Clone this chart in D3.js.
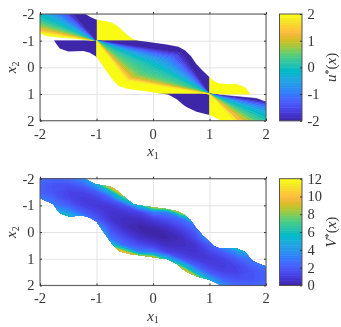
<!DOCTYPE html>
<html>
<head>
<meta charset="utf-8">
<script src="https://cdn.jsdelivr.net/npm/d3@7"></script>
<style>
html, body { margin: 0; padding: 0; background: #fff; }
svg { display: block; filter: blur(0.5px); }
text { font-family: "Liberation Serif", serif; fill: #333; }
</style>
</head>
<body>
<div id="chart"></div>
<script>
var width = 341
var height = 327

var xTicks = [-2, -1, 0, 1, 2]
var yTicks = [-2, -1, 0, 1, 2]
var uTicks = [-2, -1, 0, 1, 2]
var vTicks = [0, 2, 4, 6, 8, 10, 12]

// MATLAB parula, 64 levels
var parula = [[.2422,.1504,.6603],[.2504,.1650,.7076],[.2578,.1818,.7511],[.2647,.1978,.7952],[.2706,.2147,.8364],[.2751,.2342,.8710],[.2783,.2559,.8991],[.2803,.2782,.9221],[.2813,.3006,.9414],[.2810,.3228,.9579],[.2795,.3447,.9717],[.2760,.3667,.9829],[.2699,.3892,.9906],[.2602,.4123,.9952],[.2440,.4358,.9988],[.2206,.4603,.9973],[.1963,.4847,.9892],[.1834,.5074,.9798],[.1786,.5289,.9682],[.1764,.5499,.9520],[.1687,.5703,.9359],[.1540,.5902,.9218],[.1460,.6091,.9079],[.1380,.6276,.8973],[.1248,.6459,.8883],[.1113,.6635,.8763],[.0952,.6798,.8598],[.0689,.6948,.8394],[.0297,.7082,.8163],[.0036,.7203,.7917],[.0067,.7312,.7660],[.0433,.7411,.7394],[.0964,.7500,.7120],[.1408,.7584,.6842],[.1717,.7670,.6554],[.1938,.7758,.6251],[.2161,.7843,.5923],[.2470,.7918,.5567],[.2906,.7973,.5188],[.3406,.8008,.4789],[.3909,.8029,.4354],[.4456,.8024,.3909],[.5044,.7993,.3480],[.5616,.7942,.3045],[.6174,.7876,.2612],[.6720,.7793,.2227],[.7242,.7698,.1910],[.7738,.7598,.1646],[.8203,.7498,.1535],[.8634,.7406,.1596],[.9035,.7330,.1774],[.9393,.7288,.2100],[.9728,.7298,.2394],[.9956,.7434,.2371],[.9970,.7659,.2199],[.9952,.7893,.2028],[.9892,.8136,.1885],[.9786,.8386,.1766],[.9676,.8639,.1643],[.9610,.8890,.1537],[.9597,.9135,.1423],[.9628,.9373,.1265],[.9691,.9606,.1064],[.9769,.9839,.0805]]
var parulaColors = parula.map(c => d3.rgb(c[0] * 255, c[1] * 255, c[2] * 255).formatHex())

// edge of the region both maps are defined on, [x1, x2]
var upperEdge = [[-2,-2],[-1.2,-2],[-1.1,-1.88],[-1,-1.78],[-0.85,-1.74],[-0.73,-1.68],[-0.63,-1.55],[-0.55,-1.4],[-0.45,-1.2],[-0.35,-1.05],[-0.25,-1.0],[-0.11,-0.96],[0.24,-0.86],[0.45,-0.77],[0.57,-0.63],[0.67,-0.43],[0.77,-0.12],[0.88,0.13],[1,0.37],[1.08,0.52],[1.16,0.6],[1.3,0.62],[1.48,0.62],[1.63,0.75],[1.75,1.07],[1.85,1.17],[2,1.29]]
var lowerEdge = [[2,2],[1.21,2],[1.1,1.88],[1,1.79],[0.77,1.66],[0.6,1.5],[0.54,1.41],[0.42,1.2],[0.27,1.02],[0.1,0.97],[-0.11,0.91],[-0.44,0.81],[-0.61,0.7],[-0.7,0.5],[-0.82,0.16],[-0.92,-0.15],[-1,-0.4],[-1.12,-0.55],[-1.23,-0.61],[-1.5,-0.59],[-1.65,-0.71],[-1.72,-0.9],[-1.76,-1.05],[-2,-1.27]]

// saturated parts of u*, corners [x1, x2] and the value they carry
var saturatedU = [
    { u: -2, corners: [[-2,-1],[-1,-1],[-1,0],[-2,0]] },
    { u: 2, corners: [[-1,-2],[0,-2],[0,-1],[-1,-1]] },
    { u: -2, corners: [[-1,-1],[1,-1],[1,1],[0.5,-0.55]] },
    { u: 2, corners: [[-1,-1],[-0.47,0.5],[1,1],[-1,1]] },
    { u: 2, corners: [[1,0],[2,0],[2,1],[1,1]] },
    { u: -2, corners: [[0,1],[1,1],[1,2],[0,2]] }
]

// rays out of (-1,-1) and (1,1): [x1, x2, u]
var fanLeft = [[-2,-1.2,2],[-2,-1.31,2],[-2,-1.36,1.6],[-2,-1.42,1.3],[-2,-1.5,1],[-2,-1.58,0.7],[-2,-1.66,0.5],[-2,-1.76,0.25],[-2,-1.88,0.05],[-2,-2,-0.1],[-1.9,-2,-0.3],[-1.8,-2,-0.55],[-1.7,-2,-0.8],[-1.6,-2,-1.1],[-1.5,-2,-1.5],[-1.42,-2,-2],[-1,-2,-2]]
var fanRight = [[2,1.2,-2],[2,1.31,-2],[2,1.36,-1.6],[2,1.42,-1.3],[2,1.5,-1],[2,1.58,-0.7],[2,1.66,-0.5],[2,1.76,-0.25],[2,1.88,-0.05],[2,2,0.1],[1.9,2,0.3],[1.8,2,0.55],[1.7,2,0.8],[1.6,2,1.1],[1.5,2,1.5],[1.42,2,2],[1,2,2]]
// strips between the two apexes, bent at these points: [x1, x2, u]
var fanMiddle = [[0.5,-0.55,-2],[0.47,-0.517,-1.85],[0.439,-0.484,-1.7],[0.409,-0.451,-1.55],[0.379,-0.419,-1.4],[0.349,-0.386,-1.25],[0.318,-0.353,-1.1],[0.288,-0.32,-0.98],[0.258,-0.288,-0.85],[0.227,-0.255,-0.72],[0.197,-0.222,-0.6],[0.167,-0.189,-0.5],[0.136,-0.156,-0.38],[0.106,-0.123,-0.27],[0.076,-0.091,-0.17],[0.045,-0.058,-0.08],[0.015,-0.025,0],[-0.015,0.008,0.06],[-0.046,0.041,0.12],[-0.076,0.074,0.18],[-0.106,0.106,0.24],[-0.136,0.139,0.3],[-0.167,0.172,0.36],[-0.197,0.205,0.42],[-0.228,0.238,0.5],[-0.258,0.27,0.6],[-0.288,0.303,0.7],[-0.319,0.336,0.82],[-0.349,0.369,0.95],[-0.379,0.402,1.15],[-0.409,0.434,1.4],[-0.44,0.467,1.7],[-0.47,0.5,2]]

// V* read at x1, x2 = -2, -1.75, ... 2 (rows are x2)
var vGrid = [
    [2.6,2.4,2.6,3.6,8,13,14,14,14,14,14,14,14,14,14,14,14],
    [2.2,1.8,1.7,2.2,4.5,11,14,14,14,14,14,14,14,14,14,14,14],
    [2.3,1.8,1.3,1.3,2,5,13,14,14,14,14,14,14,14,14,14,14],
    [3.3,2.3,1.4,1,1.2,2.2,6.5,13,14,14,14,14,14,14,14,14,14],
    [5,3.2,2.2,1.3,0.9,1,1.8,5.5,11,13,14,14,14,14,14,14,14],
    [7,5.5,4,2.2,1.3,0.7,0.9,1.3,3,3.5,9.5,14,14,14,14,14,14],
    [8,7.5,7,4.5,2,0.75,0.45,0.55,1.2,1.8,2.6,7,14,14,14,14,14],
    [10,9,9,8,4,1.4,0.4,0.15,0.35,0.8,1.7,3,10,14,14,14,14],
    [12,11,10,9,6.5,2,0.9,0.25,0,0.25,0.9,2,6.5,9,10,11,12],
    [14,14,14,14,10,3,1.7,0.8,0.35,0.15,0.4,1.4,4,8,9,9,10],
    [14,14,14,14,14,7,2.6,1.8,1.2,0.55,0.45,0.75,2,4.5,7,7.5,8],
    [14,14,14,14,14,14,9.5,3.5,3,1.3,0.9,0.7,1.3,2.2,4,5.5,7],
    [14,14,14,14,14,14,14,13,11,5.5,1.8,1,0.9,1.3,2.2,3.2,5],
    [14,14,14,14,14,14,14,14,14,13,6.5,2.2,1.2,1,1.4,2.3,3.3],
    [14,14,14,14,14,14,14,14,14,14,13,5,2,1.3,1.3,1.8,2.3],
    [14,14,14,14,14,14,14,14,14,14,14,11,4.5,2.2,1.7,1.8,2.2],
    [14,14,14,14,14,14,14,14,14,14,14,13,8,3.6,2.6,2.4,2.6]
]

var x = d3.scaleLinear().domain([-2, 2]).range([40, 266])
var panelHeight = 106.7
var panelTops = [14, 178.7]

var uColor = d3.scaleQuantize().domain([-2, 2]).range(parulaColors)
var vColor = d3.scaleQuantize().domain([0, 12]).range(parulaColors)

var svg = d3.select("#chart").append("svg").attr("width", width).attr("height", height)
var defs = svg.append("defs")

function makePanel(top, id) {
    var y = d3.scaleLinear().domain([-2, 2]).range([top, top + panelHeight])
    var g = svg.append("g")

    g.append("g").attr("transform", "translate(0," + (top + panelHeight) + ")")
        .call(d3.axisBottom(x).tickValues(xTicks).tickSize(-panelHeight).tickFormat(""))
        .call(a => a.select(".domain").remove())
        .selectAll("line").attr("stroke", "#e3e3e3")
    g.append("g").attr("transform", "translate(40,0)")
        .call(d3.axisLeft(y).tickValues(yTicks).tickSize(-226).tickFormat(""))
        .call(a => a.select(".domain").remove())
        .selectAll("line").attr("stroke", "#e3e3e3")

    var line = d3.line().x(d => x(d[0])).y(d => y(d[1]))
    defs.append("clipPath").attr("id", id).append("path").attr("d", line(upperEdge.concat(lowerEdge)) + "Z")
    var marks = g.append("g").attr("clip-path", "url(#" + id + ")")
    return { y: y, g: g, line: line, marks: marks }
}

function finishPanel(p, top) {
    var g = p.g
    g.append("rect").attr("x", x(-2)).attr("y", top).attr("width", x(2) - x(-2)).attr("height", panelHeight)
        .attr("fill", "none").attr("stroke", "#555").attr("stroke-width", 1)
    var tickDirs = [[d3.axisBottom, top + panelHeight, x, -2, xTicks], [d3.axisTop, top, x, 2, xTicks]]
    tickDirs.forEach(t => {
        g.append("g").attr("transform", "translate(0," + t[1] + ")")
            .call(t[0](t[2]).tickValues(t[4]).tickSize(t[3]).tickFormat(""))
            .call(a => a.select(".domain").remove())
            .selectAll("line").attr("stroke", "#333")
    })
    g.append("g").attr("transform", "translate(" + x(-2) + ",0)")
        .call(d3.axisRight(p.y).tickValues(yTicks).tickSize(2).tickFormat(""))
        .call(a => a.select(".domain").remove())
        .selectAll("line").attr("stroke", "#333")
    g.append("g").attr("transform", "translate(" + x(2) + ",0)")
        .call(d3.axisLeft(p.y).tickValues(yTicks).tickSize(2).tickFormat(""))
        .call(a => a.select(".domain").remove())
        .selectAll("line").attr("stroke", "#333")

    // tick labels
    g.selectAll(".xlab").data(xTicks).enter().append("text")
        .attr("x", d => x(d)).attr("y", top + panelHeight + 18)
        .attr("text-anchor", "middle").attr("font-size", 14.5).text(d => d)
    g.selectAll(".ylab").data(yTicks).enter().append("text")
        .attr("x", 34.5).attr("y", d => p.y(d) + 5)
        .attr("text-anchor", "end").attr("font-size", 14.5).text(d => d)

    var xl = g.append("text").attr("x", x(0)).attr("y", top + panelHeight + 35.5)
        .attr("text-anchor", "middle").attr("font-size", 15).attr("font-style", "italic")
    xl.append("tspan").text("x")
    xl.append("tspan").attr("font-size", 10).attr("dy", 2.5).attr("font-style", "normal").text("1")

    var yl = g.append("text").attr("transform", "translate(16," + p.y(0) + ") rotate(-90)")
        .attr("text-anchor", "middle").attr("font-size", 15).attr("font-style", "italic")
    yl.append("tspan").text("x")
    yl.append("tspan").attr("font-size", 10).attr("dy", 2.5).attr("font-style", "normal").text("2")
}

function makeColorbar(top, color, ticks, label) {
    var cb = svg.append("g")
    var cbY = d3.scaleLinear().domain(color.domain()).range([top + panelHeight, top])
    var step = (color.domain()[1] - color.domain()[0]) / parulaColors.length
    cb.selectAll("rect").data(parulaColors).enter().append("rect")
        .attr("x", 279.5).attr("width", 22.5)
        .attr("y", (d, i) => cbY(color.domain()[0] + (i + 1) * step))
        .attr("height", panelHeight / parulaColors.length + 0.5)
        .attr("fill", d => d)
    cb.append("rect").attr("x", 279.5).attr("y", top).attr("width", 22.5).attr("height", panelHeight)
        .attr("fill", "none").attr("stroke", "#555")
    cb.append("g").attr("transform", "translate(302,0)")
        .call(d3.axisLeft(cbY).tickValues(ticks).tickSize(2).tickFormat(""))
        .call(a => a.select(".domain").remove())
        .selectAll("line").attr("stroke", "#333")
    cb.selectAll(".cblab").data(ticks).enter().append("text")
        .attr("x", 307.5).attr("y", d => cbY(d) + 5).attr("font-size", 14.5).text(d => d)

    var t = cb.append("text").attr("transform", "translate(336," + (top + panelHeight / 2) + ") rotate(-90)")
        .attr("text-anchor", "middle").attr("font-size", 15).attr("font-style", "italic")
    t.append("tspan").text(label)
    t.append("tspan").attr("font-size", 10).attr("dy", -4.5).attr("font-style", "normal").text("*")
    t.append("tspan").attr("dy", 4.5).attr("font-style", "normal").text("(")
    t.append("tspan").text("x")
    t.append("tspan").attr("font-style", "normal").text(")")
}

// top panel, u*
var p1 = makePanel(panelTops[0], "band-u")
function addPolygon(p, pts, fill) {
    p.marks.append("path").attr("d", p.line(pts) + "Z")
        .attr("fill", fill).attr("stroke", fill).attr("stroke-width", 0.6)
}
saturatedU.forEach(s => addPolygon(p1, s.corners, uColor(s.u)))
function drawFan(apex, rays) {
    d3.pairs(rays).forEach(r => {
        addPolygon(p1, [apex, r[0].slice(0, 2), r[1].slice(0, 2)], uColor((r[0][2] + r[1][2]) / 2))
    })
}
drawFan([-1, -1], fanLeft)
drawFan([1, 1], fanRight)
d3.pairs(fanMiddle).forEach(r => {
    addPolygon(p1, [[-1, -1], r[0].slice(0, 2), [1, 1], r[1].slice(0, 2)], uColor((r[0][2] + r[1][2]) / 2))
})
finishPanel(p1, panelTops[0])
makeColorbar(panelTops[0], uColor, uTicks, "u")

// bottom panel, V*
var p2 = makePanel(panelTops[1], "band-v")
var nCols = vGrid[0].length
var nRows = vGrid.length
var gridX = d3.scaleLinear().domain([0.5, nCols - 0.5]).range([-2, 2])
var gridY = d3.scaleLinear().domain([0.5, nRows - 0.5]).range([-2, 2])
var contours = d3.contours().size([nCols, nRows]).thresholds(d3.range(0, 14, 0.1875))(vGrid.flat())
var contourPath = d3.geoPath(d3.geoTransform({
    point: function(px, py) { this.stream.point(x(gridX(px)), p2.y(gridY(py))) }
}))
p2.marks.selectAll("path.band").data(contours).enter().append("path")
    .attr("class", "band")
    .attr("d", contourPath)
    .attr("fill", d => vColor(Math.min(d.value, 11.99)))
finishPanel(p2, panelTops[1])
makeColorbar(panelTops[1], vColor, vTicks, "V")
</script>
</body>
</html>
